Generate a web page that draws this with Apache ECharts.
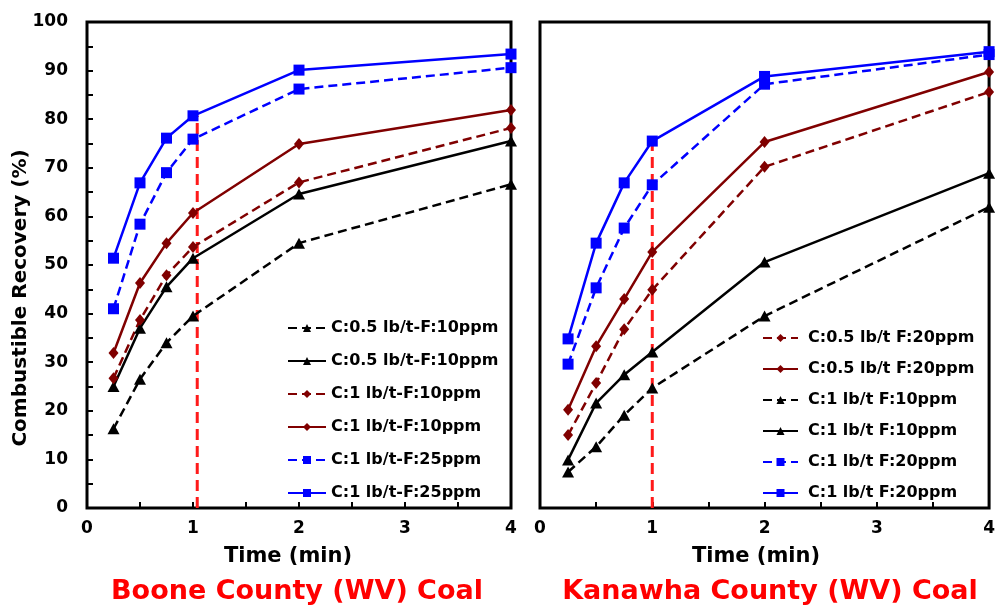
<!DOCTYPE html>
<html>
<head>
<meta charset="utf-8">
<script src="https://cdn.jsdelivr.net/npm/echarts@6/dist/echarts.min.js"></script>
<style>html,body{margin:0;padding:0;background:#fff}#c{width:998px;height:610px}</style>
</head>
<body>
<div id="c"></div>
<script>
// ---- data ----
const xTimes = [0.25, 0.5, 0.75, 1, 2, 4];
const xTicks = [0, 1, 2, 3, 4];
const yTicks = [0, 10, 20, 30, 40, 50, 60, 70, 80, 90, 100];

// Boone County
const booneNames = ['C:0.5 lb/t-F:10ppm', 'C:0.5 lb/t-F:10ppm ', 'C:1 lb/t-F:10ppm', 'C:1 lb/t-F:10ppm ', 'C:1 lb/t-F:25ppm', 'C:1 lb/t-F:25ppm '];
const booneC05F10Dash  = [16.3, 26.5, 34.0, 39.5, 54.5, 66.6];
const booneC05F10Solid = [25.0, 37.0, 45.5, 51.4, 64.6, 75.5];
const booneC1F10Dash   = [26.7, 38.7, 47.9, 53.7, 67.0, 78.2];
const booneC1F10Solid  = [31.9, 46.3, 54.5, 60.7, 74.9, 81.9];
const booneC1F25Dash   = [41.0, 58.4, 69.0, 75.9, 86.2, 90.6];
const booneC1F25Solid  = [51.4, 66.9, 76.1, 80.7, 90.1, 93.4];

// Kanawha County
const kanNames = ['C:0.5 lb/t F:20ppm', 'C:0.5 lb/t F:20ppm ', 'C:1 lb/t F:10ppm', 'C:1 lb/t F:10ppm ', 'C:1 lb/t F:20ppm', 'C:1 lb/t F:20ppm '];
const kanC05F20Dash  = [15.0, 25.7, 36.8, 44.9, 70.2, 85.6];
const kanC05F20Solid = [20.2, 33.3, 43.0, 52.7, 75.3, 89.7];
const kanC1F10Dash   = [7.4, 12.6, 19.1, 24.7, 39.5, 61.9];
const kanC1F10Solid  = [9.9, 21.6, 27.4, 32.1, 50.6, 68.9];
const kanC1F20Dash   = [29.6, 45.3, 57.6, 66.5, 87.2, 93.3];
const kanC1F20Solid  = [34.8, 54.5, 66.9, 75.5, 88.8, 93.9];

// red dashed reference lines (time, top value) per panel
const refTimes = [1.04, 1.0];
const refTops = [80.7, 75.5];

// ---- styling ----
const BLUE = '#0000ff', DRED = '#800000', BLACK = '#000000', RED = '#ff1a1a';
const FONT = '"DejaVu Sans", sans-serif';
const DASH = [9, 5];

function pts(arr) { return xTimes.map((x, i) => [x, arr[i]]); }

function mkSeries(name, arr, color, symbol, dashed, idx) {
  return {
    type: 'line', name: name, xAxisIndex: idx, yAxisIndex: idx,
    data: pts(arr), symbol: symbol,
    symbolSize: symbol === 'rect' ? 11 : (symbol === 'diamond' ? [10, 12] : [12, 11]),
    lineStyle: { color: color, width: 2.5, type: dashed ? DASH : 'solid' },
    itemStyle: { color: color },
    clip: false, z: 3
  };
}

function refSeries(i) {
  return {
    type: 'line', xAxisIndex: i, yAxisIndex: i, silent: true,
    data: [[refTimes[i], 0], [refTimes[i], refTops[i]]],
    symbol: 'none', lineStyle: { color: RED, width: 3, type: [11, 6] }, z: 2, clip: false
  };
}

function xAxis(i) {
  return {
    type: 'value', gridIndex: i, min: xTicks[0], max: xTicks[xTicks.length - 1], interval: 1,
    axisLine: { show: false },
    axisTick: { show: true, inside: true, length: 6, lineStyle: { color: '#000', width: 2 } },
    minorTick: { show: true, splitNumber: 2, length: 6, lineStyle: { color: '#000', width: 2 } },
    splitLine: { show: false },
    axisLabel: { color: '#000', fontFamily: FONT, fontWeight: 'bold', fontSize: 17, margin: 12 }
  };
}

function yAxis(i) {
  return {
    type: 'value', gridIndex: i, min: yTicks[0], max: yTicks[yTicks.length - 1], interval: 10,
    axisLine: { show: false },
    axisTick: { show: i === 0, inside: true, length: 6, lineStyle: { color: '#000', width: 2 } },
    minorTick: { show: i === 0, splitNumber: 2, length: 6, lineStyle: { color: '#000', width: 2 } },
    splitLine: { show: false },
    axisLabel: { show: i === 0, color: '#000', fontFamily: FONT, fontWeight: 'bold', fontSize: 17, margin: 19 }
  };
}

const chart = echarts.init(document.getElementById('c'), null, { renderer: 'canvas' });

const series = [
  refSeries(0), refSeries(1),
  mkSeries(booneNames[0], booneC05F10Dash, BLACK, 'triangle', true, 0),
  mkSeries(booneNames[1], booneC05F10Solid, BLACK, 'triangle', false, 0),
  mkSeries(booneNames[2], booneC1F10Dash, DRED, 'diamond', true, 0),
  mkSeries(booneNames[3], booneC1F10Solid, DRED, 'diamond', false, 0),
  mkSeries(booneNames[4], booneC1F25Dash, BLUE, 'rect', true, 0),
  mkSeries(booneNames[5], booneC1F25Solid, BLUE, 'rect', false, 0),
  mkSeries(kanNames[0], kanC05F20Dash, DRED, 'diamond', true, 1),
  mkSeries(kanNames[1], kanC05F20Solid, DRED, 'diamond', false, 1),
  mkSeries(kanNames[2], kanC1F10Dash, BLACK, 'triangle', true, 1),
  mkSeries(kanNames[3], kanC1F10Solid, BLACK, 'triangle', false, 1),
  mkSeries(kanNames[4], kanC1F20Dash, BLUE, 'rect', true, 1),
  mkSeries(kanNames[5], kanC1F20Solid, BLUE, 'rect', false, 1)
];

const legendText = { color: '#000', fontFamily: FONT, fontWeight: 'bold', fontSize: 16, lineHeight: 16 };

chart.setOption({
  animation: false,
  backgroundColor: '#fff',
  grid: [
    { left: 87, top: 22, width: 424, height: 486, show: true, borderColor: '#000', borderWidth: 3, backgroundColor: 'transparent' },
    { left: 540, top: 22, width: 452, height: 486, show: true, borderColor: '#000', borderWidth: 3, backgroundColor: 'transparent' }
  ],
  xAxis: [xAxis(0), xAxis(1)],
  yAxis: [yAxis(0), yAxis(1)],
  legend: [
    { orient: 'vertical', left: 282, top: 315, itemWidth: 38, itemHeight: 10, itemGap: 17,
      textStyle: legendText, data: booneNames, selectedMode: false },
    { orient: 'vertical', left: 757, top: 325, itemWidth: 35, itemHeight: 10, itemGap: 15,
      textStyle: Object.assign({}, legendText, { padding: [0, 0, 0, 5] }), data: kanNames, selectedMode: false }
  ],
  graphic: [
    { type: 'text', x: 21, y: 298, rotation: Math.PI / 2,
      style: { text: 'Combustible Recovery (%)', font: 'bold 20px "DejaVu Sans"', fill: '#000', textAlign: 'center', textVerticalAlign: 'middle' } },
    { type: 'text', x: 288, y: 557,
      style: { text: 'Time (min)', font: 'bold 21px "DejaVu Sans"', fill: '#000', textAlign: 'center', textVerticalAlign: 'middle' } },
    { type: 'text', x: 756, y: 557,
      style: { text: 'Time (min)', font: 'bold 21px "DejaVu Sans"', fill: '#000', textAlign: 'center', textVerticalAlign: 'middle' } },
    { type: 'text', x: 297, y: 592,
      style: { text: 'Boone County (WV) Coal', font: 'bold 27px "DejaVu Sans"', fill: '#ff0000', textAlign: 'center', textVerticalAlign: 'middle' } },
    { type: 'text', x: 770, y: 592,
      style: { text: 'Kanawha County (WV) Coal', font: 'bold 27px "DejaVu Sans"', fill: '#ff0000', textAlign: 'center', textVerticalAlign: 'middle' } }
  ],
  series: series
});
</script>
</body>
</html>
